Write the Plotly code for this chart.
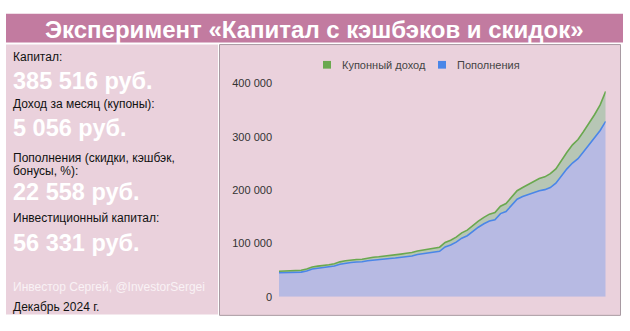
import plotly.graph_objects as go

W, H = 630, 331

# Weekly balance of the experiment portfolio, thousands of rubles
deposits_k = [45.0, 45.3, 45.5, 45.8, 46.2, 48.3, 52.0, 53.5, 54.5, 56.0,
              57.8, 61.0, 63.0, 64.3, 65.2, 65.6, 67.5, 68.8, 69.6, 70.5,
              71.8, 72.6, 73.9, 75.2, 76.5, 79.2, 81.0, 82.8, 84.0, 85.3,
              93.5, 97.0, 102.5, 110.0, 114.5, 123.0, 130.5, 137.0, 142.0, 144.5,
              156.0, 160.0, 172.0, 183.0, 188.0, 192.0, 196.0, 199.0, 201.0, 205.0,
              213.0, 227.0, 240.0, 251.0, 259.0, 272.0, 285.0, 298.0, 312.0, 329.185]
coupons_k = [3.0, 3.2, 3.3, 3.4, 3.5, 3.7, 4.0, 4.0, 4.0, 4.0,
             4.2, 4.5, 4.5, 4.7, 4.8, 4.9, 5.0, 5.2, 5.4, 5.5,
             5.7, 5.9, 6.1, 6.3, 6.5, 6.8, 7.0, 7.2, 7.5, 7.7,
             8.5, 9.0, 9.5, 10.0, 10.5, 11.0, 11.5, 12.0, 13.0, 13.5,
             14.0, 15.0, 16.0, 16.0, 17.0, 19.0, 21.0, 23.0, 24.0, 26.0,
             27.0, 29.0, 31.0, 34.0, 36.0, 38.0, 40.0, 44.0, 48.0, 56.331]

series_names = ["Купонный доход", "Пополнения"]
tick_values = [0, 100000, 200000, 300000, 400000]
tick_labels = ["0", "100 000", "200 000", "300 000", "400 000"]

title_text = "Эксперимент «Капитал с кэшбэков и скидок»"
side_lines = [
    ("Капитал:", "label"),
    ("385 516 руб.", "big"),
    ("Доход за месяц (купоны):", "label"),
    ("5 056 руб.", "big"),
    ("Пополнения (скидки, кэшбэк,", "label"),
    ("бонусы, %):", "label"),
    ("22 558 руб.", "big"),
    ("Инвестиционный капитал:", "label"),
    ("56 331 руб.", "big"),
    ("Инвестор Сергей, @InvestorSergei", "credit"),
    ("Декабрь 2024 г.", "label"),
]
side_y = [53, 78, 102, 127, 158, 171, 193, 220, 246, 292, 312]

GREEN = "#6AA84F"
BLUE = "#4A86E8"
PANEL = "#EAD1DC"
BAND = "#C27BA0"
FONT = "Liberation Sans, Arial, sans-serif"


def px(x):
    return x / W


def py(y):
    return 1 - y / H


weeks = list(range(len(deposits_k)))
deposits = [v * 1000 for v in deposits_k]
coupons = [v * 1000 for v in coupons_k]

fig = go.Figure()
fig.add_trace(go.Scatter(
    x=weeks, y=deposits, name=series_names[1], stackgroup="cap",
    mode="lines", line=dict(color=BLUE, width=1.6),
    fillcolor="rgba(66,133,244,0.30)"))
fig.add_trace(go.Scatter(
    x=weeks, y=coupons, name=series_names[0], stackgroup="cap",
    mode="lines", line=dict(color=GREEN, width=1.6),
    fillcolor="rgba(52,168,83,0.28)"))

shapes = [
    # title band
    dict(type="rect", xref="paper", yref="paper", x0=px(6), x1=px(623),
         y0=py(38), y1=py(8), fillcolor=BAND, line=dict(width=0), layer="below"),
    # left info panel
    dict(type="rect", xref="paper", yref="paper", x0=px(6), x1=px(218),
         y0=py(320), y1=py(40), fillcolor=PANEL, line=dict(width=0), layer="below"),
    # chart panel
    dict(type="rect", xref="paper", yref="paper", x0=px(219.5), x1=px(620.5),
         y0=py(321), y1=py(40), fillcolor=PANEL,
         line=dict(color="#A89AA2", width=1), layer="below"),
    # legend swatches
    dict(type="rect", xref="paper", yref="paper", x0=px(323), x1=px(331),
         y0=py(65), y1=py(57), fillcolor=GREEN, line=dict(width=0)),
    dict(type="rect", xref="paper", yref="paper", x0=px(438), x1=px(446),
         y0=py(65), y1=py(57), fillcolor=BLUE, line=dict(width=0)),
]

annotations = [
    dict(text="<b>" + title_text + "</b>", xref="paper", yref="paper",
         x=px(314), y=py(24), xanchor="center", yanchor="middle", showarrow=False,
         font=dict(family=FONT, size=24, color="white")),
    dict(text=series_names[0], xref="paper", yref="paper", x=px(340), y=py(61),
         xanchor="left", yanchor="middle", showarrow=False,
         font=dict(family=FONT, size=11, color="#444444")),
    dict(text=series_names[1], xref="paper", yref="paper", x=px(455), y=py(61),
         xanchor="left", yanchor="middle", showarrow=False,
         font=dict(family=FONT, size=11, color="#444444")),
]

styles = {
    "label": dict(size=12, color="#111111"),
    "big": dict(size=23.5, color="white"),
    "credit": dict(size=12, color="#F9F2F5"),
}
for (txt, kind), yy in zip(side_lines, side_y):
    shown = "<b>" + txt + "</b>" if kind == "big" else txt
    annotations.append(dict(
        text=shown, xref="paper", yref="paper", x=px(11), y=py(yy),
        xanchor="left", yanchor="middle", showarrow=False,
        font=dict(family=FONT, **styles[kind])))

fig.update_layout(
    width=W, height=H,
    margin=dict(l=0, r=0, t=0, b=0),
    paper_bgcolor="white",
    plot_bgcolor="rgba(0,0,0,0)",
    showlegend=False,
    shapes=shapes,
    annotations=annotations,
    xaxis=dict(domain=[px(279), px(605.7)], range=[0, len(weeks) - 1],
               showgrid=False, zeroline=False, showline=False,
               showticklabels=False, ticks=""),
    yaxis=dict(domain=[py(301.7), py(80.5)], range=[0, 400000],
               tickvals=tick_values, ticktext=tick_labels,
               showgrid=False, zeroline=False, showline=False, ticks="",
               ticklabelstandoff=6,
               tickfont=dict(family=FONT, size=11, color="#333333")),
)

fig.write_html("out.html")
